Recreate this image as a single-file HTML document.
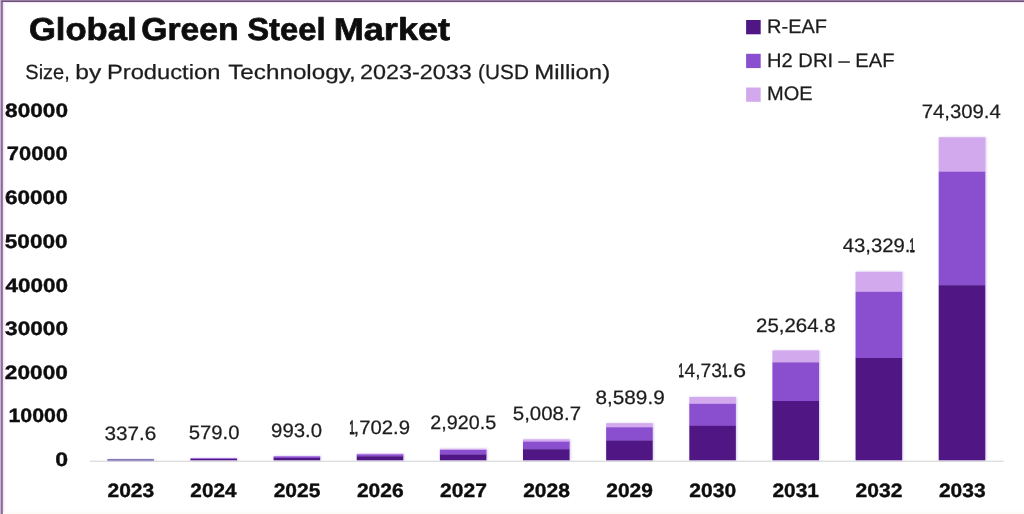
<!DOCTYPE html>
<html lang="en">
<head>
<meta charset="utf-8">
<title>Global Green Steel Market</title>
<style>
html,body{margin:0;padding:0;background:#fff;}
body{width:1024px;height:514px;overflow:hidden;}
main,figure{display:block;margin:0;padding:0;width:1024px;height:514px;}
svg{display:block;}
text{font-family:"Liberation Sans",Arial,Helvetica,sans-serif;text-rendering:geometricPrecision;}
</style>
</head>
<body>
<main>
<figure>
<svg width="1024" height="514" viewBox="0 0 1024 514" role="img" aria-label="Global Green Steel Market stacked bar chart">
<defs><linearGradient id="hz" x1="0" x2="1" y1="0" y2="0"><stop offset="0" stop-color="#ecdcf3"/><stop offset="1" stop-color="#ffffff"/></linearGradient><filter id="bl" x="0" y="0" width="1024" height="514" filterUnits="userSpaceOnUse"><feGaussianBlur stdDeviation="0.45"/></filter><filter id="sh" x="-20%" y="-5%" width="140%" height="110%"><feDropShadow dx="0.8" dy="0" stdDeviation="1.1" flood-color="#9a78d8" flood-opacity="0.45"/></filter></defs>
<rect x="0" y="0" width="1024" height="514" fill="#ffffff"/>
<rect x="0" y="0" width="1024" height="1" fill="#947d9f"/>
<rect x="0" y="1" width="1024" height="1" fill="#6d4f7a"/>
<rect x="0" y="2" width="1024" height="1.2" fill="#f3e6f8"/>
<rect x="2.6" y="2" width="3" height="512" fill="url(#hz)"/>
<rect x="0" y="0" width="1.2" height="514" fill="#cdb0d8"/>
<rect x="1.2" y="1" width="1.5" height="513" fill="#6d4f7a"/>
<rect x="3" y="511.6" width="1021" height="2.4" fill="#fcfbf7"/>
<g filter="url(#bl)">
<rect x="89.8" y="460.7" width="913.7" height="1" fill="#d2d2d2"/>
<rect x="746.1" y="20.0" width="14.6" height="14.3" fill="#4f1884"/>
<rect x="746.1" y="53.8" width="14.6" height="14.3" fill="#8a50cf"/>
<rect x="746.1" y="87.5" width="14.6" height="14.3" fill="#d3a9ee"/>
<g filter="url(#sh)">
<rect x="107.30" y="459.00" width="46.60" height="1.70" fill="#8579b6"/>
<rect x="190.44" y="458.00" width="46.60" height="0.60" fill="#d3a9ee"/><rect x="190.44" y="458.30" width="46.60" height="1.00" fill="#8a50cf"/><rect x="190.44" y="459.00" width="46.60" height="1.30" fill="#4f1884"/>
<rect x="273.58" y="456.00" width="46.60" height="0.80" fill="#d3a9ee"/><rect x="273.58" y="456.50" width="46.60" height="1.80" fill="#8a50cf"/><rect x="273.58" y="458.00" width="46.60" height="2.30" fill="#4f1884"/>
<rect x="356.72" y="453.70" width="46.60" height="1.00" fill="#d3a9ee"/><rect x="356.72" y="454.40" width="46.60" height="2.20" fill="#8a50cf"/><rect x="356.72" y="456.30" width="46.60" height="4.00" fill="#4f1884"/>
<rect x="439.86" y="448.80" width="46.60" height="1.50" fill="#d3a9ee"/><rect x="439.86" y="450.00" width="46.60" height="4.90" fill="#8a50cf"/><rect x="439.86" y="454.60" width="46.60" height="5.70" fill="#4f1884"/>
<rect x="523.00" y="439.40" width="46.60" height="2.60" fill="#d3a9ee"/><rect x="523.00" y="441.70" width="46.60" height="7.80" fill="#8a50cf"/><rect x="523.00" y="449.20" width="46.60" height="11.10" fill="#4f1884"/>
<rect x="606.14" y="423.20" width="46.60" height="4.40" fill="#d3a9ee"/><rect x="606.14" y="427.30" width="46.60" height="13.60" fill="#8a50cf"/><rect x="606.14" y="440.60" width="46.60" height="19.70" fill="#4f1884"/>
<rect x="689.28" y="397.00" width="46.60" height="7.10" fill="#d3a9ee"/><rect x="689.28" y="403.80" width="46.60" height="22.30" fill="#8a50cf"/><rect x="689.28" y="425.80" width="46.60" height="34.50" fill="#4f1884"/>
<rect x="772.42" y="350.50" width="46.60" height="12.20" fill="#d3a9ee"/><rect x="772.42" y="362.40" width="46.60" height="38.90" fill="#8a50cf"/><rect x="772.42" y="401.00" width="46.60" height="59.30" fill="#4f1884"/>
<rect x="855.56" y="271.80" width="46.60" height="20.30" fill="#d3a9ee"/><rect x="855.56" y="291.80" width="46.60" height="66.50" fill="#8a50cf"/><rect x="855.56" y="358.00" width="46.60" height="102.30" fill="#4f1884"/>
<rect x="938.70" y="137.30" width="46.60" height="34.70" fill="#d3a9ee"/><rect x="938.70" y="171.70" width="46.60" height="113.80" fill="#8a50cf"/><rect x="938.70" y="285.20" width="46.60" height="175.10" fill="#4f1884"/>
</g>
<text id="title" y="40.00" font-size="31.60" font-weight="700" fill="#0b0b0b" stroke="#0b0b0b" stroke-width="0.70" stroke-linejoin="round"><tspan id="t1" x="28.93" textLength="107.58" lengthAdjust="spacingAndGlyphs">Global</tspan> <tspan id="t2" x="141.20" textLength="97.32" lengthAdjust="spacingAndGlyphs">Green</tspan> <tspan id="t3" x="247.17" textLength="78.42" lengthAdjust="spacingAndGlyphs">Steel</tspan> <tspan id="t4" x="333.69" textLength="116.38" lengthAdjust="spacingAndGlyphs">Market</tspan></text>
<text id="subtitle" y="79.00" font-size="20.60" font-weight="400" fill="#1e1e1e" stroke="#1e1e1e" stroke-width="0.25" stroke-linejoin="round"><tspan id="s1" x="25.35" textLength="44.46" lengthAdjust="spacingAndGlyphs">Size,</tspan> <tspan id="s2" x="75.34" textLength="25.96" lengthAdjust="spacingAndGlyphs">by</tspan> <tspan id="s3" x="106.97" textLength="113.37" lengthAdjust="spacingAndGlyphs">Production</tspan> <tspan id="s4" x="228.18" textLength="127.64" lengthAdjust="spacingAndGlyphs">Technology,</tspan> <tspan id="s5" x="360.14" textLength="111.69" lengthAdjust="spacingAndGlyphs">2023-2033</tspan> <tspan id="s6" x="478.11" textLength="50.77" lengthAdjust="spacingAndGlyphs">(USD</tspan> <tspan id="s7" x="534.33" textLength="75.84" lengthAdjust="spacingAndGlyphs">Million)</tspan></text>
<text id="v3" y="433.75" font-size="19.40" font-weight="400" fill="#1e1e1e" stroke="#1e1e1e" stroke-width="0.25" stroke-linejoin="round"><tspan id="v3r0" x="349.24" textLength="5.48" lengthAdjust="spacingAndGlyphs" stroke-width="0.9">1</tspan><tspan id="v3r1" x="353.58" textLength="56.50" lengthAdjust="spacingAndGlyphs">,702.9</tspan></text>
<text id="v7" y="377.00" font-size="19.40" font-weight="400" fill="#1e1e1e" stroke="#1e1e1e" stroke-width="0.25" stroke-linejoin="round"><tspan id="v7r0" x="678.38" textLength="5.38" lengthAdjust="spacingAndGlyphs" stroke-width="0.9">1</tspan><tspan id="v7r1" x="684.57" textLength="37.40" lengthAdjust="spacingAndGlyphs">4,73</tspan><tspan id="v7r2" x="722.02" textLength="5.48" lengthAdjust="spacingAndGlyphs" stroke-width="0.9">1</tspan><tspan id="v7r3" x="726.91" textLength="19.25" lengthAdjust="spacingAndGlyphs">.6</tspan></text>
<text id="v9" y="252.20" font-size="19.40" font-weight="400" fill="#1e1e1e" stroke="#1e1e1e" stroke-width="0.25" stroke-linejoin="round"><tspan id="v9r0" x="842.67" textLength="67.82" lengthAdjust="spacingAndGlyphs">43,329.</tspan><tspan id="v9r1" x="909.38" textLength="5.38" lengthAdjust="spacingAndGlyphs" stroke-width="0.9">1</tspan></text>
<text id="l1" x="767.09" y="33.00" font-size="19.60" font-weight="400" fill="#1e1e1e" stroke="#1e1e1e" stroke-width="0.25" stroke-linejoin="round" textLength="59.85" lengthAdjust="spacingAndGlyphs">R-EAF</text>
<text id="l2" x="767.09" y="67.00" font-size="19.60" font-weight="400" fill="#1e1e1e" stroke="#1e1e1e" stroke-width="0.25" stroke-linejoin="round" textLength="127.42" lengthAdjust="spacingAndGlyphs">H2 DRI – EAF</text>
<text id="l3" x="767.04" y="100.00" font-size="19.60" font-weight="400" fill="#1e1e1e" stroke="#1e1e1e" stroke-width="0.25" stroke-linejoin="round" textLength="45.58" lengthAdjust="spacingAndGlyphs">MOE</text>
<text id="y0" x="5.08" y="117.00" font-size="19.30" font-weight="700" fill="#101010" stroke="#101010" stroke-width="0.40" stroke-linejoin="round" textLength="62.92" lengthAdjust="spacingAndGlyphs">80000</text>
<text id="y1" x="6.86" y="160.00" font-size="19.30" font-weight="700" fill="#101010" stroke="#101010" stroke-width="0.40" stroke-linejoin="round" textLength="60.85" lengthAdjust="spacingAndGlyphs">70000</text>
<text id="y2" x="4.99" y="204.00" font-size="19.30" font-weight="700" fill="#101010" stroke="#101010" stroke-width="0.40" stroke-linejoin="round" textLength="62.71" lengthAdjust="spacingAndGlyphs">60000</text>
<text id="y3" x="4.75" y="248.00" font-size="19.30" font-weight="700" fill="#101010" stroke="#101010" stroke-width="0.40" stroke-linejoin="round" textLength="62.88" lengthAdjust="spacingAndGlyphs">50000</text>
<text id="y4" x="5.40" y="292.00" font-size="19.30" font-weight="700" fill="#101010" stroke="#101010" stroke-width="0.40" stroke-linejoin="round" textLength="62.59" lengthAdjust="spacingAndGlyphs">40000</text>
<text id="y5" x="5.14" y="335.00" font-size="19.30" font-weight="700" fill="#101010" stroke="#101010" stroke-width="0.40" stroke-linejoin="round" textLength="62.93" lengthAdjust="spacingAndGlyphs">30000</text>
<text id="y6" x="4.88" y="379.00" font-size="19.30" font-weight="700" fill="#101010" stroke="#101010" stroke-width="0.40" stroke-linejoin="round" textLength="62.98" lengthAdjust="spacingAndGlyphs">20000</text>
<text id="y7" x="8.49" y="422.00" font-size="19.30" font-weight="700" fill="#101010" stroke="#101010" stroke-width="0.40" stroke-linejoin="round" textLength="59.38" lengthAdjust="spacingAndGlyphs">10000</text>
<text id="y8" x="55.22" y="466.00" font-size="19.30" font-weight="700" fill="#101010" stroke="#101010" stroke-width="0.40" stroke-linejoin="round" textLength="12.82" lengthAdjust="spacingAndGlyphs">0</text>
<text id="x0" x="107.48" y="497.00" font-size="19.30" font-weight="700" fill="#101010" stroke="#101010" stroke-width="0.40" stroke-linejoin="round" textLength="46.68" lengthAdjust="spacingAndGlyphs">2023</text>
<text id="x1" x="190.38" y="497.00" font-size="19.30" font-weight="700" fill="#101010" stroke="#101010" stroke-width="0.40" stroke-linejoin="round" textLength="46.17" lengthAdjust="spacingAndGlyphs">2024</text>
<text id="x2" x="273.65" y="497.00" font-size="19.30" font-weight="700" fill="#101010" stroke="#101010" stroke-width="0.40" stroke-linejoin="round" textLength="46.71" lengthAdjust="spacingAndGlyphs">2025</text>
<text id="x3" x="356.93" y="497.00" font-size="19.30" font-weight="700" fill="#101010" stroke="#101010" stroke-width="0.40" stroke-linejoin="round" textLength="46.73" lengthAdjust="spacingAndGlyphs">2026</text>
<text id="x4" x="440.14" y="497.00" font-size="19.30" font-weight="700" fill="#101010" stroke="#101010" stroke-width="0.40" stroke-linejoin="round" textLength="46.79" lengthAdjust="spacingAndGlyphs">2027</text>
<text id="x5" x="523.17" y="497.00" font-size="19.30" font-weight="700" fill="#101010" stroke="#101010" stroke-width="0.40" stroke-linejoin="round" textLength="46.80" lengthAdjust="spacingAndGlyphs">2028</text>
<text id="x6" x="606.29" y="497.00" font-size="19.30" font-weight="700" fill="#101010" stroke="#101010" stroke-width="0.40" stroke-linejoin="round" textLength="46.59" lengthAdjust="spacingAndGlyphs">2029</text>
<text id="x7" x="689.35" y="497.00" font-size="19.30" font-weight="700" fill="#101010" stroke="#101010" stroke-width="0.40" stroke-linejoin="round" textLength="46.85" lengthAdjust="spacingAndGlyphs">2030</text>
<text id="x8" x="772.42" y="497.00" font-size="19.30" font-weight="700" fill="#101010" stroke="#101010" stroke-width="0.40" stroke-linejoin="round" textLength="46.52" lengthAdjust="spacingAndGlyphs">2031</text>
<text id="x9" x="855.56" y="497.00" font-size="19.30" font-weight="700" fill="#101010" stroke="#101010" stroke-width="0.40" stroke-linejoin="round" textLength="46.80" lengthAdjust="spacingAndGlyphs">2032</text>
<text id="x10" x="938.94" y="497.00" font-size="19.30" font-weight="700" fill="#101010" stroke="#101010" stroke-width="0.40" stroke-linejoin="round" textLength="46.68" lengthAdjust="spacingAndGlyphs">2033</text>
<text id="v0" x="104.54" y="439.50" font-size="19.40" font-weight="400" fill="#1e1e1e" stroke="#1e1e1e" stroke-width="0.25" stroke-linejoin="round" textLength="51.85" lengthAdjust="spacingAndGlyphs">337.6</text>
<text id="v1" x="188.70" y="438.75" font-size="19.40" font-weight="400" fill="#1e1e1e" stroke="#1e1e1e" stroke-width="0.25" stroke-linejoin="round" textLength="50.79" lengthAdjust="spacingAndGlyphs">579.0</text>
<text id="v2" x="271.06" y="437.40" font-size="19.40" font-weight="400" fill="#1e1e1e" stroke="#1e1e1e" stroke-width="0.25" stroke-linejoin="round" textLength="51.00" lengthAdjust="spacingAndGlyphs">993.0</text>
<text id="v4" x="430.39" y="428.75" font-size="19.40" font-weight="400" fill="#1e1e1e" stroke="#1e1e1e" stroke-width="0.25" stroke-linejoin="round" textLength="65.77" lengthAdjust="spacingAndGlyphs">2,920.5</text>
<text id="v5" x="512.83" y="419.50" font-size="19.40" font-weight="400" fill="#1e1e1e" stroke="#1e1e1e" stroke-width="0.25" stroke-linejoin="round" textLength="68.19" lengthAdjust="spacingAndGlyphs">5,008.7</text>
<text id="v6" x="595.47" y="404.40" font-size="19.40" font-weight="400" fill="#1e1e1e" stroke="#1e1e1e" stroke-width="0.25" stroke-linejoin="round" textLength="69.22" lengthAdjust="spacingAndGlyphs">8,589.9</text>
<text id="v8" x="756.07" y="331.90" font-size="19.40" font-weight="400" fill="#1e1e1e" stroke="#1e1e1e" stroke-width="0.25" stroke-linejoin="round" textLength="79.49" lengthAdjust="spacingAndGlyphs">25,264.8</text>
<text id="v10" x="921.65" y="117.70" font-size="19.40" font-weight="400" fill="#1e1e1e" stroke="#1e1e1e" stroke-width="0.25" stroke-linejoin="round" textLength="79.07" lengthAdjust="spacingAndGlyphs">74,309.4</text>
</g>
</svg>
</figure>
</main>
</body>
</html>
